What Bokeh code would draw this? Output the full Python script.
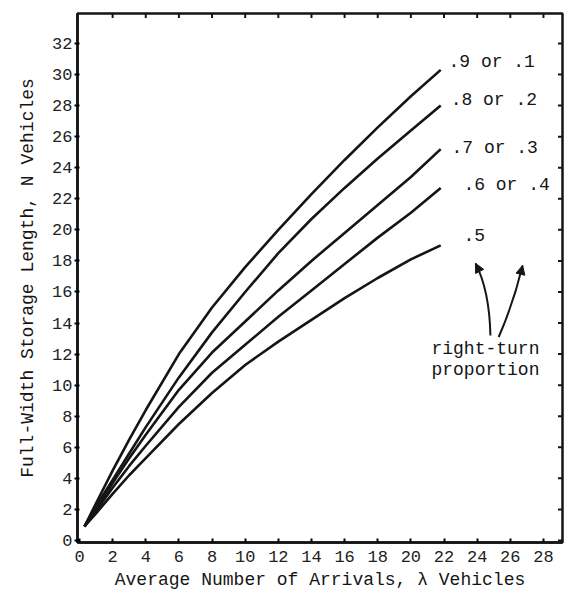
import math
from bokeh.plotting import figure
from bokeh.models import FixedTicker, Label, Arrow, NormalHead, Range1d
from bokeh.embed import file_html
from bokeh.resources import INLINE

# ---- data ----
lam = [0.3, 1, 2, 3, 4, 6, 8, 10, 12, 14, 16, 18, 20, 21.8]
n_09 = [0.9, 2.4, 4.5, 6.5, 8.4, 12.0, 15.0, 17.6, 20.0, 22.3, 24.5, 26.6, 28.6, 30.3]
n_08 = [0.9, 2.2, 3.9, 5.6, 7.3, 10.5, 13.4, 16.0, 18.5, 20.7, 22.7, 24.6, 26.4, 28.0]
n_07 = [0.9, 2.0, 3.7, 5.3, 6.8, 9.7, 12.1, 14.1, 16.1, 18.0, 19.8, 21.6, 23.4, 25.2]
n_06 = [0.9, 1.9, 3.4, 4.8, 6.1, 8.6, 10.8, 12.6, 14.4, 16.1, 17.8, 19.5, 21.1, 22.7]
n_05 = [0.9, 1.75, 3.0, 4.2, 5.3, 7.5, 9.5, 11.3, 12.8, 14.2, 15.6, 16.9, 18.1, 19.0]
series = [n_09, n_08, n_07, n_06, n_05]
series_labels = [".9 or .1", ".8 or .2", ".7 or .3", ".6 or .4", ".5"]
x_ticks = list(range(0, 29, 2))
y_ticks = list(range(0, 33, 2))
x_title = "Average Number of Arrivals, \u03bb Vehicles"
y_title = "Full-Width Storage Length, N Vehicles"
note_lines = ["right-turn", "proportion"]

FONT = "Liberation Mono"
INK = "#151515"
X0, X1 = -0.12, 29.15
Y0, Y1 = -0.13, 33.93

p = figure(width=568, height=596, output_backend="svg", toolbar_location=None,
           x_range=Range1d(X0, X1), y_range=Range1d(Y0, Y1),
           min_border_left=77, min_border_right=6, min_border_top=13, min_border_bottom=54,
           background_fill_color="white", border_fill_color="white")
p.grid.visible = False
p.outline_line_color = INK
p.outline_line_width = 2.5

# bottom axis
xa = p.xaxis[0]
xa.ticker = FixedTicker(ticks=x_ticks)
xa.major_tick_in = 4
xa.major_tick_out = 0
xa.minor_tick_line_color = None
xa.axis_line_width = 2.5
xa.axis_line_color = INK
xa.major_tick_line_width = 2
xa.major_label_standoff = 8
xa.major_label_text_font = FONT
xa.major_label_text_font_size = "17px"
xa.major_label_text_color = "#222222"
xa.axis_label = x_title
xa.axis_label_text_font = FONT
xa.axis_label_text_font_size = "18px"
xa.axis_label_text_font_style = "normal"
xa.axis_label_text_color = INK
xa.axis_label_standoff = 5

# left axis
ya = p.yaxis[0]
ya.ticker = FixedTicker(ticks=y_ticks)
ya.major_tick_in = 2
ya.major_tick_out = 3
ya.minor_tick_line_color = None
ya.axis_line_width = 2.5
ya.axis_line_color = INK
ya.major_tick_line_width = 2
ya.major_label_standoff = 2
ya.major_label_text_font = FONT
ya.major_label_text_font_size = "17px"
ya.major_label_text_color = "#222222"
ya.axis_label = y_title
ya.axis_label_text_font = FONT
ya.axis_label_text_font_size = "18px"
ya.axis_label_text_font_style = "normal"
ya.axis_label_text_color = INK
ya.axis_label_standoff = 11

# inward ticks on the top and right frame edges (half of each dash is clipped)
p.scatter(x=x_ticks[1:], y=[Y1] * (len(x_ticks) - 1), marker="dash", size=9,
          angle=math.pi / 2, line_color=INK, line_width=2)
p.scatter(x=[X1] * len(y_ticks), y=y_ticks, marker="dash", size=9,
          line_color=INK, line_width=2)

for ys in series:
    p.line(lam, ys, line_color=INK, line_width=2.6, line_join="round")

# curve labels
label_pos = [(22.27, 30.78), (22.4, 28.33), (22.45, 25.3), (23.17, 22.86), (23.17, 19.64)]
for txt, (lx, ly) in zip(series_labels, label_pos):
    p.add_layout(Label(x=lx, y=ly, text=txt, text_font=FONT, text_font_size="18px",
                       text_align="left", text_baseline="middle", text_color=INK))

for txt, ly in zip(note_lines, (12.36, 10.95)):
    p.add_layout(Label(x=21.24, y=ly, text=txt, text_font=FONT, text_font_size="18px",
                       text_align="left", text_baseline="middle", text_color=INK))

# curved arrows
arrows = [((24.8, 13.2), (24.74, 16.1), (23.9, 17.84)),
          ((25.3, 13.1), (26.2, 15.3), (26.74, 17.71))]
for (x0, y0), (cx, cy), (x1, y1) in arrows:
    p.quadratic(x0=[x0], y0=[y0], x1=[x1], y1=[y1], cx=[cx], cy=[cy],
                line_color=INK, line_width=2)
    sx, sy = x1 - 0.25 * (x1 - cx), y1 - 0.25 * (y1 - cy)
    p.add_layout(Arrow(end=NormalHead(size=9, fill_color=INK, line_color=INK),
                       x_start=sx, y_start=sy, x_end=x1, y_end=y1,
                       line_color=INK, line_width=2))

open("out.html", "w").write(file_html(p, INLINE))
